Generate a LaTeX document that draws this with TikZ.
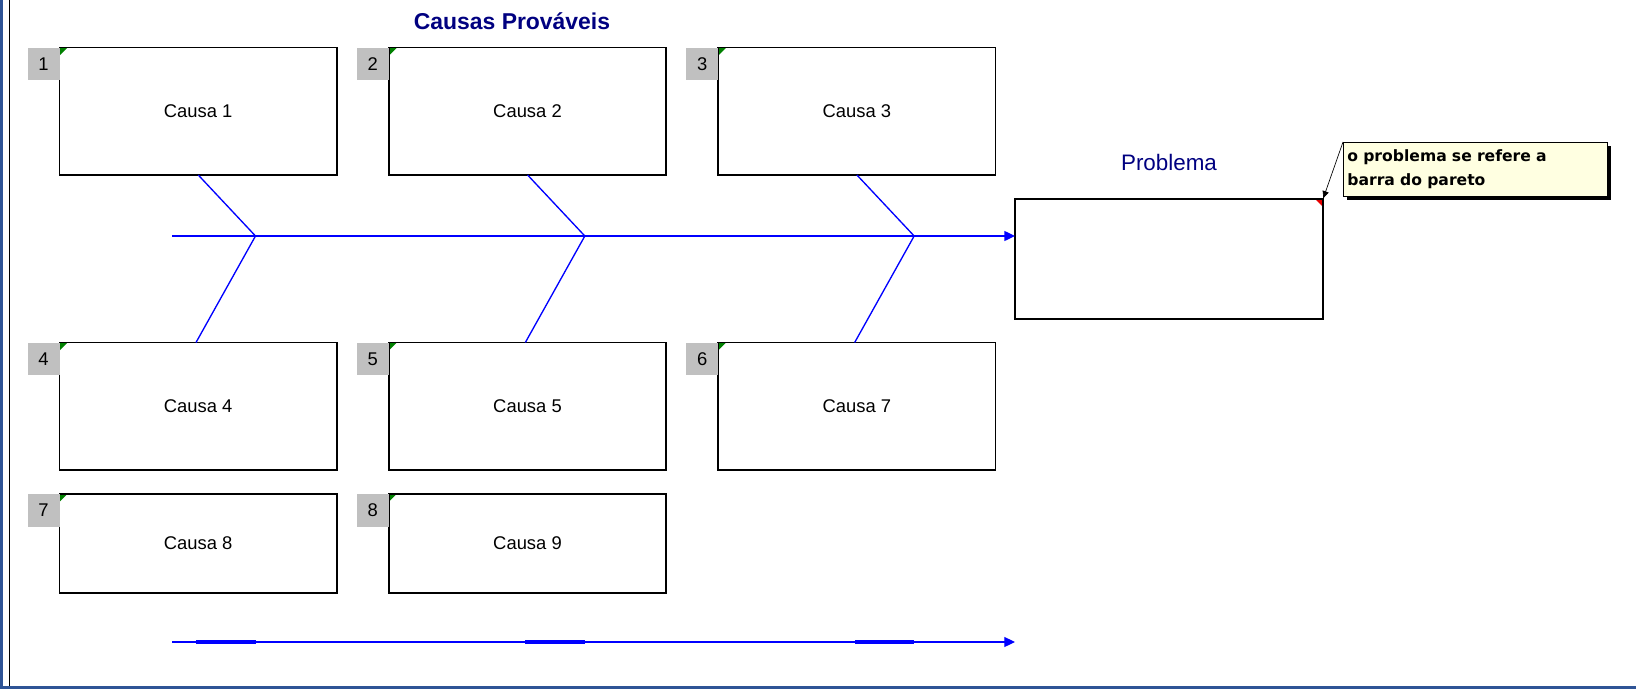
\documentclass[tikz,border=0pt]{standalone}
\usepackage{fontspec}
\setmainfont{Liberation Sans}
\newfontfamily\notafont{DejaVu Sans}
\usetikzlibrary{arrows.meta, positioning, calc, shadows}
\definecolor{azul}{RGB}{0,0,255}
\definecolor{marinho}{RGB}{0,0,128}
\definecolor{verde}{RGB}{0,128,0}
\definecolor{vermelho}{RGB}{230,0,0}
\definecolor{cinza}{RGB}{192,192,192}
\definecolor{amarelo}{RGB}{255,255,225}
\definecolor{moldura}{RGB}{47,84,150}

\begin{document}
\begin{tikzpicture}[
        x=0.75pt, y=-0.75pt,
        node distance=39pt and 39pt,
        causa/.style={draw, line width=1.1pt, outer sep=0pt, inner sep=0pt, minimum width=208pt, minimum height=95.5pt, font=\fontsize{13.8}{16}\selectfont,
            path picture={\fill[verde] (path picture bounding box.north west) -- ++(8,0) -- ++(-8,8) -- cycle;}},
        num/.style={fill=cinza, anchor=north east, minimum width=24pt, minimum height=24.5pt, inner sep=0pt, outer sep=0pt, font=\fontsize{13.8}{16}\selectfont},
        espinha/.style={azul, line width=1pt},
        seta/.style={-{Triangle[length=8pt, width=7.5pt]}, azul, line width=1pt}
    ]
        \useasboundingbox (0,0) rectangle (1636,689);
        % moldura da folha
        \fill[moldura] (0,0) rectangle (3,689);
        \fill[moldura] (0,686) rectangle (1636,689);
        \draw[line width=0.8pt] (9.5,0) -- (9.5,686);

        \node[font=\bfseries\fontsize{17.2}{20}\selectfont, text=marinho] (titulo) at (512,21) {Causas Prováveis};

        % causas
        \node[causa, anchor=north west] (c1) at (59.5,47.7) {Causa 1};
        \node[causa, right=of c1] (c2) {Causa 2};
        \node[causa, right=of c2] (c3) {Causa 3};
        \node[causa, below=125.6pt of c1] (c4) {Causa 4};
        \node[causa, right=of c4] (c5) {Causa 5};
        \node[causa, right=of c5] (c6) {Causa 7};
        \node[causa, below=18pt of c4, minimum height=74.3pt] (c7) {Causa 8};
        \node[causa, right=of c7, minimum height=74.3pt] (c8) {Causa 9};

        \node[num] (n1) at (c1.north west) {1};
        \node[num] (n2) at (c2.north west) {2};
        \node[num] (n3) at (c3.north west) {3};
        \node[num] (n4) at (c4.north west) {4};
        \node[num] (n5) at (c5.north west) {5};
        \node[num] (n6) at (c6.north west) {6};
        \node[num] (n7) at (c7.north west) {7};
        \node[num] (n8) at (c8.north west) {8};

        % problema
        \node[draw, line width=1.1pt, outer sep=0pt, anchor=north west, minimum width=231pt, minimum height=90pt,
            path picture={\fill[vermelho] (path picture bounding box.north east) -- ++(-8,0) -- ++(8,8) -- cycle;}] (prob) at (1015,199) {};
        \node[above=21pt of prob, inner sep=0pt, text=marinho, font=\fontsize{16.8}{20}\selectfont] (rotulo) {Problema};

        \node[draw, line width=0.6pt, fill=amarelo, anchor=north west, text width=192pt, inner xsep=3pt, inner ysep=3pt, minimum height=40.5pt, align=left,
            font=\notafont\bfseries\fontsize{11.7}{18}\selectfont,
            drop shadow={shadow xshift=3pt, shadow yshift=-3pt, fill=black, opacity=1}] (nota) at (1343,142) {o problema se refere a\\barra do pareto};
        \draw[-{Latex[length=6pt, width=5pt]}, line width=0.5pt] (nota.north west) -- (prob.north east);

        % espinha
        \coordinate (ini) at (172,236);
        \coordinate (j1) at ($(ini -| c1.west)+(196,0)$);
        \coordinate (j2) at ($(ini -| c2.west)+(196,0)$);
        \coordinate (j3) at ($(ini -| c3.west)+(196,0)$);
        \coordinate (p4) at ($(c4.north west)+(136.5,0)$);
        \coordinate (p5) at ($(c5.north west)+(136.5,0)$);
        \coordinate (p6) at ($(c6.north west)+(136.5,0)$);
        \draw[seta] (ini) -- (ini -| prob.west);
        \draw[espinha] ($(c1.south west)+(138.8,0)$) -- (j1) -- (p4);
        \draw[espinha] ($(c2.south west)+(138.8,0)$) -- (j2) -- (p5);
        \draw[espinha] ($(c3.south west)+(138.8,0)$) -- (j3) -- (p6);

        % linha de baixo
        \coordinate (base) at (172,642);
        \draw[seta, line width=0.8pt] (base) -- (base -| prob.west);
        \fill[azul] ($(base -| p4)+(0,-1.6)$) rectangle ($(base -| j1)+(0,1.6)$);
        \fill[azul] ($(base -| p5)+(0,-1.6)$) rectangle ($(base -| j2)+(0,1.6)$);
        \fill[azul] ($(base -| p6)+(0,-1.6)$) rectangle ($(base -| j3)+(0,1.6)$);
\end{tikzpicture}
\end{document}
